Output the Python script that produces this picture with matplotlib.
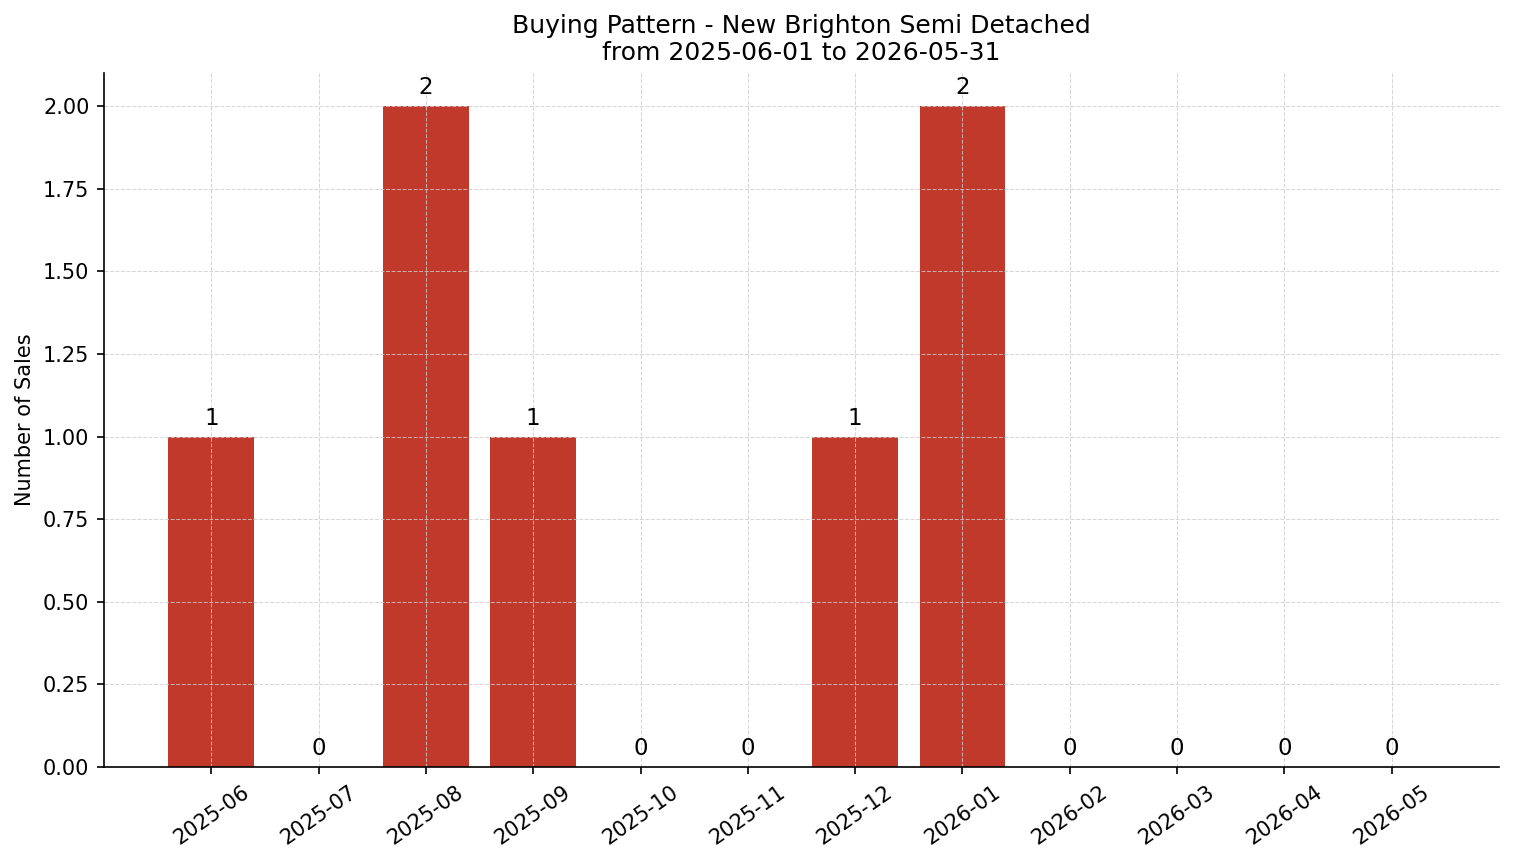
import matplotlib

matplotlib.use("Agg")

import matplotlib.pyplot as plt

months = ["2025-06", "2025-07", "2025-08", "2025-09", "2025-10", "2025-11",
          "2025-12", "2026-01", "2026-02", "2026-03", "2026-04", "2026-05"]
sales = [1, 0, 2, 1, 0, 0, 1, 2, 0, 0, 0, 0]


def main():
    fig, ax = plt.subplots(figsize=(1514 / 150, 863 / 150), dpi=150)
    x = list(range(len(months)))
    bars = ax.bar(x, sales, width=0.8, color="#c0392b")
    for b, v in zip(bars, sales):
        ax.text(b.get_x() + b.get_width() / 2, v + 0.02, str(v),
                ha="center", va="bottom", fontsize=11)

    ax.set_xticks(x)
    ax.set_xticklabels(months, rotation=35, ha="center")
    ax.set_xlim(-1, len(months))
    ax.set_ylim(0, 2.1)
    ax.set_ylabel("Number of Sales")
    ax.set_title("Buying Pattern - New Brighton Semi Detached\nfrom 2025-06-01 to 2026-05-31")
    ax.grid(True, linestyle="--", linewidth=0.5, color="#cccccc", alpha=0.8)
    ax.spines["top"].set_visible(False)
    ax.spines["right"].set_visible(False)

    fig.subplots_adjust(left=104 / 1514, right=1499 / 1514,
                        top=1 - 73 / 863, bottom=1 - 767 / 863)
    fig.savefig("out.png", dpi=150)


if __name__ == "__main__":
    main()
